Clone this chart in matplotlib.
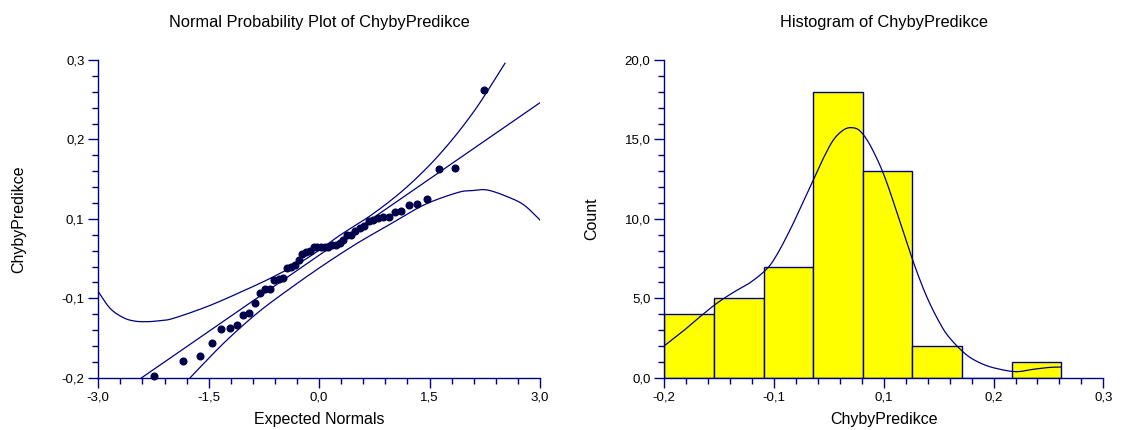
import numpy as np
import matplotlib
matplotlib.use("Agg")
import matplotlib.pyplot as plt
from matplotlib.ticker import FixedLocator, MultipleLocator
from statistics import NormalDist

# ---------------- data ----------------
errors_sorted = [
    -0.1973, -0.1742, -0.1664, -0.1450, -0.1239, -0.1213, -0.1166, -0.1018, -0.0982,
    -0.0830, -0.0667, -0.0600, -0.0600, -0.0462, -0.0447, -0.0436,
    -0.0268, -0.0253, -0.0232, -0.0143, -0.0053, -0.0027, -0.0011, 0.0052, 0.0055,
    0.0055, 0.0055, 0.0058, 0.0084, 0.0094, 0.0115, 0.0167, 0.0246, 0.0250,
    0.0309, 0.0356, 0.0388, 0.0471, 0.0482, 0.0508, 0.0529, 0.0529, 0.0603,
    0.0628, 0.0723, 0.0734, 0.0820,
    0.1280, 0.1300, 0.2528,
]

# reference line of the probability plot
fit_intercept = -0.0072
fit_slope = 0.0800

upper_band_x = [-3.0, -2.84, -2.66, -2.50, -2.32, -2.15, -1.98, -1.525, -1.072, -0.619,
                -0.165, 0.288, 0.741, 1.196, 1.649, 2.10, 2.524]
upper_band_y = [-0.0646, -0.0908, -0.1055, -0.1110, -0.1118, -0.1100, -0.1066, -0.0882,
                -0.0656, -0.0410, -0.0121, 0.0246, 0.0587, 0.1006, 0.1532, 0.2187, 0.2948]

lower_band_x = [-1.752, -1.299, -0.845, -0.392, 0.061, 0.516, 0.969, 1.422, 1.876,
                2.08, 2.284, 2.556, 2.782, 3.0]
lower_band_y = [-0.2000, -0.1459, -0.0987, -0.0593, -0.0226, 0.0115, 0.0419, 0.0718,
                0.0912, 0.0945, 0.0954, 0.0849, 0.0718, 0.0482]

hist_edges = [-0.2, -0.1435, -0.087, -0.0305, 0.026, 0.0825, 0.139, 0.1955, 0.252]
hist_counts = [4, 5, 7, 18, 13, 2, 0, 1]

kde_x = [-0.2, -0.1784, -0.1593, -0.1403, -0.1214, -0.1024, -0.0834, -0.072, -0.0568,
         -0.0417, -0.0303, -0.0189, -0.0075, 0.0039, 0.0134, 0.0229, 0.0343, 0.0494,
         0.0647, 0.0836, 0.0989, 0.114, 0.1254, 0.1444, 0.1633, 0.1823, 0.2014,
         0.2203, 0.2393, 0.2522]
kde_y = [2.01, 2.94, 3.84, 4.68, 5.37, 5.98, 6.84, 7.72, 9.30, 11.08, 12.45, 13.81,
         14.96, 15.59, 15.74, 15.53, 14.65, 12.87, 10.45, 7.30, 5.10, 3.42, 2.48,
         1.43, 0.84, 0.53, 0.38, 0.53, 0.65, 0.67]

left_xticks = [-3.0, -1.5, 0.0, 1.5, 3.0]
left_xticklabels = ["-3,0", "-1,5", "0,0", "1,5", "3,0"]
left_yticks = [-0.2, -0.075, 0.05, 0.175, 0.3]
left_yticklabels = ["-0,2", "-0,1", "0,1", "0,2", "0,3"]
right_xticks = [-0.2, -0.075, 0.05, 0.175, 0.3]
right_xticklabels = ["-0,2", "-0,1", "0,1", "0,2", "0,3"]
right_yticks = [0, 5, 10, 15, 20]
right_yticklabels = ["0,0", "5,0", "10,0", "15,0", "20,0"]

# ---------------- style ----------------
NAVY = "#000080"
DOT = "#00004a"
plt.rcParams["font.family"] = ["Liberation Sans", "DejaVu Sans"]


def smooth(xs, ys, per=12):
    """Catmull-Rom rendering of the read curve points."""
    p = np.column_stack([xs, ys]).astype(float)
    p = np.vstack([2 * p[0] - p[1], p, 2 * p[-1] - p[-2]])
    out = []
    t = np.linspace(0, 1, per, endpoint=False)[:, None]
    for i in range(1, len(p) - 2):
        p0, p1, p2, p3 = p[i - 1], p[i], p[i + 1], p[i + 2]
        seg = 0.5 * ((2 * p1) + (-p0 + p2) * t + (2 * p0 - 5 * p1 + 4 * p2 - p3) * t ** 2
                     + (-p0 + 3 * p1 - 3 * p2 + p3) * t ** 3)
        out.append(seg)
    out.append(p[-2][None, :])
    out = np.vstack(out)
    return out[:, 0], out[:, 1]


fig = plt.figure(figsize=(11.23, 4.30), dpi=100)
ax1 = fig.add_axes([98.3 / 1123, 52.3 / 430, 441.7 / 1123, 317.7 / 430])
ax2 = fig.add_axes([664.3 / 1123, 52.3 / 430, 439.0 / 1123, 317.7 / 430])


def style_axes(ax):
    for s in ("top", "right"):
        ax.spines[s].set_visible(False)
    for s in ("left", "bottom"):
        ax.spines[s].set_color(NAVY)
        ax.spines[s].set_linewidth(1.0)
    ax.tick_params(which="major", direction="out", length=7, width=1, color=NAVY,
                   labelsize=9.5, labelcolor="black", pad=3)
    ax.tick_params(which="minor", direction="out", length=4, width=1, color=NAVY)


# ---- normal probability plot ----
n = len(errors_sorted)
y = np.array(errors_sorted)
expected = np.array([NormalDist().inv_cdf((i - 0.375) / (n + 0.25)) for i in range(1, n + 1)])
xx = np.linspace(-3, 3, 200)
ax1.plot(xx, fit_intercept + fit_slope * xx, color=NAVY, lw=0.9)
ux, uy = smooth(upper_band_x, upper_band_y)
lx, ly = smooth(lower_band_x, lower_band_y)
ax1.plot(ux, uy, color=NAVY, lw=0.9)
ax1.plot(lx, ly, color=NAVY, lw=0.9)
ax1.plot(expected, y, "o", color=DOT, ms=4.8, mec=DOT, clip_on=False, zorder=5)
ax1.set_xlim(-3, 3)
ax1.set_ylim(-0.2, 0.3)
ax1.xaxis.set_major_locator(FixedLocator(left_xticks))
ax1.set_xticklabels(left_xticklabels)
ax1.xaxis.set_minor_locator(MultipleLocator(0.3))
ax1.yaxis.set_major_locator(FixedLocator(left_yticks))
ax1.set_yticklabels(left_yticklabels)
ax1.yaxis.set_minor_locator(MultipleLocator(0.025))
style_axes(ax1)
ax1.set_title("Normal Probability Plot of ChybyPredikce", fontsize=11.8, pad=24)
ax1.set_xlabel("Expected Normals", fontsize=11.5, labelpad=6)
ax1.set_ylabel("ChybyPredikce", fontsize=11.5, labelpad=25)

# ---- histogram ----
widths = np.diff(hist_edges)
ax2.bar(hist_edges[:-1], hist_counts, width=widths, align="edge",
        color="#ffff00", edgecolor=NAVY, linewidth=1.0, zorder=2)
kx, ky = smooth(kde_x, kde_y)
ax2.plot(kx, ky, color=NAVY, lw=0.9, zorder=3)
ax2.set_xlim(-0.2, 0.3)
ax2.set_ylim(0, 20)
ax2.xaxis.set_major_locator(FixedLocator(right_xticks))
ax2.set_xticklabels(right_xticklabels)
ax2.xaxis.set_minor_locator(MultipleLocator(0.025))
ax2.yaxis.set_major_locator(FixedLocator(right_yticks))
ax2.set_yticklabels(right_yticklabels)
ax2.yaxis.set_minor_locator(MultipleLocator(1))
style_axes(ax2)
ax2.set_title("Histogram of ChybyPredikce", fontsize=11.8, pad=24)
ax2.set_xlabel("ChybyPredikce", fontsize=11.5, labelpad=6)
ax2.set_ylabel("Count", fontsize=11.5, labelpad=18)

fig.savefig("out.png", dpi=100)
